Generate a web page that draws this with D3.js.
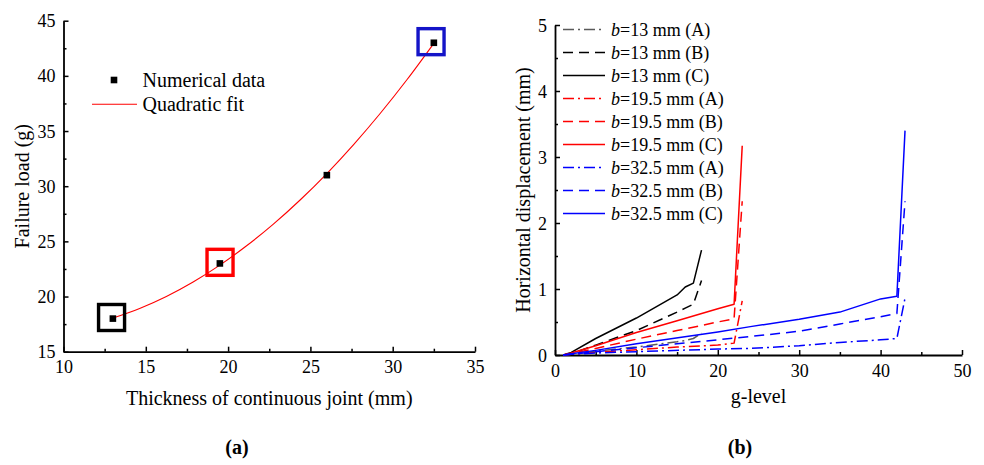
<!DOCTYPE html>
<html>
<head>
<meta charset="utf-8">
<script src="https://cdn.jsdelivr.net/npm/d3@7"></script>
<style>
  html, body { margin: 0; padding: 0; background: #fff; }
  svg { display: block; }
  svg text { font-family: "Liberation Serif", "Times New Roman", serif !important; fill: #000; }
</style>
</head>
<body>
<svg id="chart" width="984" height="465"></svg>
<script>
// ---------- Panel (a) data ----------
const thickness = [13, 19.5, 26, 32.5];
const failureLoad = [18, 23, 31, 43];
const fitX = [13, 14.625, 16.25, 17.875, 19.5, 21.125, 22.75, 24.375, 26, 27.625, 29.25, 30.875, 32.5];
const fitY = [18.05, 18.92, 20.01, 21.32, 22.85, 24.6, 26.56, 28.75, 31.15, 33.77, 36.61, 39.67, 42.95];
// highlight boxes (centers in data units) and colours
const boxX = [12.92, 19.51, 32.33];
const boxY = [18.1, 23.1, 43.1];
const boxColors = ["#000000", "#ff0000", "#1414c8"];
const aXTicks = [10, 15, 20, 25, 30, 35];
const aYTicks = [15, 20, 25, 30, 35, 40, 45];
const aLegend = ["Numerical data", "Quadratic fit"];

// ---------- Panel (b) data ----------
const seriesNames = ["13 mm (A)", "13 mm (B)", "13 mm (C)",
                     "19.5 mm (A)", "19.5 mm (B)", "19.5 mm (C)",
                     "32.5 mm (A)", "32.5 mm (B)", "32.5 mm (C)"];
const seriesColors = ["#5a5a5a", "#000000", "#000000",
                      "#ff0000", "#ff0000", "#ff0000",
                      "#0000ff", "#0000ff", "#0000ff"];
const seriesDash = ["dashdot", "dash", "solid", "dashdot", "dash", "solid", "dashdot", "dash", "solid"];
const gLevel13 = [1, 2, 5, 10, 15, 16, 17, 18];
const disp13A = [0, 0.01, 0.06, 0.12, 0.2, 0.22, 0.25, 0.33];
const disp13B = [0, 0.02, 0.15, 0.37, 0.65, 0.71, 0.77, 1.13];
const disp13C = [0, 0.04, 0.25, 0.56, 0.91, 1.03, 1.09, 1.59];
const gLevel195 = [1, 2, 5, 10, 15, 20, 22, 23];
const disp195A = [0, 0.01, 0.04, 0.08, 0.12, 0.15, 0.18, 0.82];
const disp195B = [0, 0.02, 0.1, 0.24, 0.37, 0.5, 0.55, 2.33];
const disp195C = [0, 0.03, 0.14, 0.34, 0.52, 0.7, 0.77, 3.17];
const gLevel325 = [1, 2, 5, 10, 20, 24, 30, 35, 40, 42, 43];
const disp325A = [0, 0.01, 0.03, 0.05, 0.09, 0.1, 0.14, 0.19, 0.23, 0.25, 0.86];
const disp325B = [0, 0.01, 0.05, 0.11, 0.23, 0.28, 0.36, 0.47, 0.58, 0.63, 2.33];
const disp325C = [0, 0.02, 0.07, 0.17, 0.35, 0.43, 0.54, 0.65, 0.85, 0.89, 3.4];
const bXTicks = [0, 10, 20, 30, 40, 50];
const bYTicks = [0, 1, 2, 3, 4, 5];

const seriesData = [
  [gLevel13, disp13A], [gLevel13, disp13B], [gLevel13, disp13C],
  [gLevel195, disp195A], [gLevel195, disp195B], [gLevel195, disp195C],
  [gLevel325, disp325A], [gLevel325, disp325B], [gLevel325, disp325C]
];

const svg = d3.select("#chart");
const TICK_FONT = 18, TITLE_FONT = 20, LEG_A = 20, LEG_B = 18;
const dashMap = { solid: null, dash: "10,6", dashdot: "11,4,2,4" };
const fmt = d3.format("d");

function drawAxes(g, x, y, xTicks, yTicks, xMinor, yMinor, h) {
  g.append("g").attr("transform", `translate(0,${h})`)
    .call(d3.axisBottom(x).tickValues(xMinor).tickSize(-3).tickSizeOuter(0).tickFormat(""))
    .call(s => s.select(".domain").remove())
    .selectAll("line").attr("stroke-width", 1.5);
  g.append("g")
    .call(d3.axisLeft(y).tickValues(yMinor).tickSize(-3).tickSizeOuter(0).tickFormat(""))
    .call(s => s.select(".domain").remove())
    .selectAll("line").attr("stroke-width", 1.5);
  const xa = g.append("g").attr("transform", `translate(0,${h})`)
    .call(d3.axisBottom(x).tickValues(xTicks).tickSize(-5).tickSizeOuter(0).tickPadding(9).tickFormat(fmt));
  const ya = g.append("g")
    .call(d3.axisLeft(y).tickValues(yTicks).tickSize(-5).tickSizeOuter(0).tickPadding(8).tickFormat(fmt));
  [xa, ya].forEach(a => {
    a.attr("font-family", null).attr("font-size", null);
    a.select(".domain").attr("stroke-width", 1.8);
    a.selectAll(".tick line").attr("stroke-width", 1.5);
    a.selectAll(".tick text").attr("font-size", TICK_FONT).attr("fill", "#000");
  });
  xa.selectAll(".tick text").attr("dy", "0.71em");
  ya.selectAll(".tick text").attr("dy", "0.34em");
}

// ================= Panel (a) =================
{
  const L = 63.5, R = 475, T = 20.7, B = 351.7;
  const g = svg.append("g").attr("transform", `translate(${L},${T})`);
  const w = R - L, h = B - T;
  const x = d3.scaleLinear().domain([10, 35]).range([0, w]);
  const y = d3.scaleLinear().domain([15, 45]).range([h, 0]);

  drawAxes(g, x, y, aXTicks, aYTicks,
    d3.range(12.5, 35, 5), d3.range(17.5, 45, 5), h);

  const fitPts = fitX.map((v, i) => [v, fitY[i]]);
  g.append("path").datum(fitPts)
    .attr("fill", "none").attr("stroke", "#ff0000").attr("stroke-width", 1.1)
    .attr("d", d3.line().x(d => x(d[0])).y(d => y(d[1])).curve(d3.curveMonotoneX));

  g.selectAll("rect.pt").data(thickness).enter().append("rect")
    .attr("class", "pt")
    .attr("x", (d) => x(d) - 3.3).attr("y", (d, i) => y(failureLoad[i]) - 3.3)
    .attr("width", 6.6).attr("height", 6.6).attr("fill", "#000");

  g.selectAll("rect.box").data(boxX).enter().append("rect")
    .attr("class", "box")
    .attr("x", d => x(d) - 13).attr("y", (d, i) => y(boxY[i]) - 13)
    .attr("width", 26).attr("height", 26)
    .attr("fill", "none").attr("stroke", (d, i) => boxColors[i]).attr("stroke-width", 3.4);

  svg.append("rect").attr("x", 114 - 3.3).attr("y", 80 - 3.3).attr("width", 6.6).attr("height", 6.6).attr("fill", "#000");
  svg.append("text").attr("x", 142.5).attr("y", 86.5).attr("font-size", LEG_A).text(aLegend[0]);
  svg.append("line").attr("x1", 92).attr("x2", 137).attr("y1", 104.3).attr("y2", 104.3)
    .attr("stroke", "#ff0000").attr("stroke-width", 1.1);
  svg.append("text").attr("x", 142.5).attr("y", 111).attr("font-size", LEG_A).text(aLegend[1]);

  svg.append("text").attr("x", (L + R) / 2).attr("y", 405).attr("text-anchor", "middle")
    .attr("font-size", TITLE_FONT).text("Thickness of continuous joint (mm)");
  svg.append("text").attr("transform", `translate(29,${(T + B) / 2}) rotate(-90)`)
    .attr("text-anchor", "middle").attr("font-size", TITLE_FONT).text("Failure load (g)");
  svg.append("text").attr("x", 237).attr("y", 454).attr("text-anchor", "middle")
    .attr("font-size", 20).attr("font-weight", "bold").text("(a)");
}

// ================= Panel (b) =================
{
  const L = 555, R = 962, T = 25, B = 355;
  const g = svg.append("g").attr("transform", `translate(${L},${T})`);
  const w = R - L, h = B - T;
  const x = d3.scaleLinear().domain([0, 50]).range([0, w]);
  const y = d3.scaleLinear().domain([0, 5]).range([h, 0]);

  drawAxes(g, x, y, bXTicks, bYTicks,
    d3.range(5, 50, 10), d3.range(0.5, 5, 1), h);

  const line = d3.line().x(d => x(d[0])).y(d => y(d[1]));
  seriesData.forEach((s, i) => {
    const pts = s[0].map((v, j) => [v, s[1][j]]);
    g.append("path").datum(pts)
      .attr("fill", "none").attr("stroke", seriesColors[i]).attr("stroke-width", 1.5)
      .attr("stroke-dasharray", dashMap[seriesDash[i]])
      .attr("stroke-linejoin", "round")
      .attr("d", line);
  });

  const lg = svg.append("g");
  seriesNames.forEach((name, i) => {
    const yy = 29.5 + 23 * i;
    lg.append("line").attr("x1", 563).attr("x2", 605).attr("y1", yy).attr("y2", yy)
      .attr("stroke", seriesColors[i]).attr("stroke-width", 1.5)
      .attr("stroke-dasharray", dashMap[seriesDash[i]]);
    const t = lg.append("text").attr("x", 611).attr("y", yy + 6).attr("font-size", LEG_B);
    t.append("tspan").attr("font-style", "italic").text("b");
    t.append("tspan").text("=" + name);
  });

  svg.append("text").attr("x", (L + R) / 2).attr("y", 403).attr("text-anchor", "middle")
    .attr("font-size", TITLE_FONT).text("g-level");
  svg.append("text").attr("transform", `translate(530,${(T + B) / 2}) rotate(-90)`)
    .attr("text-anchor", "middle").attr("font-size", TITLE_FONT).text("Horizontal displacement (mm)");
  svg.append("text").attr("x", 740).attr("y", 454).attr("text-anchor", "middle")
    .attr("font-size", 20).attr("font-weight", "bold").text("(b)");
}
</script>
</body>
</html>
